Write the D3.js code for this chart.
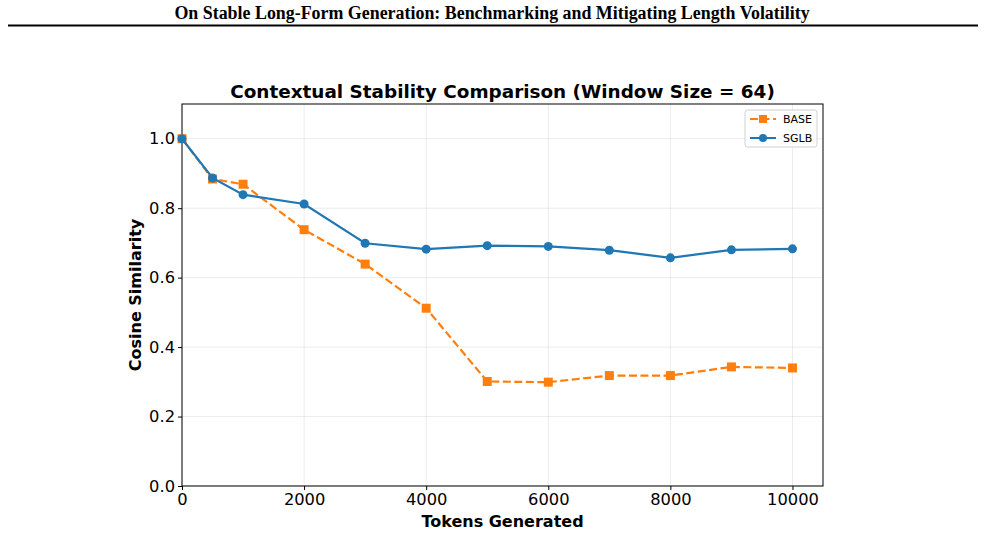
<!doctype html>
<html lang="en">
<head>
<meta charset="UTF-8">
<title>Contextual Stability Comparison</title>
<script src="https://d3js.org/d3.v7.min.js"></script>
<style>
  body { margin: 0; background: #fff; }
  svg text { font-family: "DejaVu Sans", sans-serif; }
</style>
</head>
<body>
<div id="chart-area"></div>
<script>
const tokens = [0, 500, 1000, 2000, 3000, 4000, 5000, 6000, 7000, 8000, 9000, 10000];
const baseVals = [1.0, 0.884, 0.869, 0.738, 0.639, 0.512, 0.301, 0.299, 0.318, 0.318, 0.343, 0.340];
const sglbVals = [1.0, 0.887, 0.839, 0.812, 0.699, 0.682, 0.692, 0.690, 0.679, 0.657, 0.680, 0.683];
const xTicks = [0, 2000, 4000, 6000, 8000, 10000];
const yTicks = [0.0, 0.2, 0.4, 0.6, 0.8, 1.0];

const W = 985, H = 557;
const m = { left: 182, right: 823, top: 104, bottom: 486 };

const svg = d3.select('#chart-area')
    .append('svg')
    .attr('width', W)
    .attr('height', H);

// page header
svg.append('text')
    .attr('x', 492).attr('y', 19)
    .attr('text-anchor', 'middle')
    .style('font-family', '"Liberation Serif", "Times New Roman", serif')
    .style('font-weight', 'bold')
    .style('font-size', '17.9px')
    .text('On Stable Long-Form Generation: Benchmarking and Mitigating Length Volatility');
svg.append('line')
    .attr('x1', 8).attr('x2', 978)
    .attr('y1', 25.5).attr('y2', 25.5)
    .attr('stroke', '#000').attr('stroke-width', 2);

const x = d3.scaleLinear().domain([0, 10500]).range([m.left, m.right]);
const y = d3.scaleLinear().domain([0, 1.1]).range([m.bottom, m.top]);

// grid
const grid = svg.append('g');
grid.selectAll('.gx').data(xTicks).enter().append('line')
    .attr('x1', d => x(d)).attr('x2', d => x(d))
    .attr('y1', m.top).attr('y2', m.bottom)
    .attr('stroke', '#b0b0b0').attr('stroke-opacity', 0.3).attr('stroke-width', 0.8);
grid.selectAll('.gy').data(yTicks).enter().append('line')
    .attr('x1', m.left).attr('x2', m.right)
    .attr('y1', d => y(d)).attr('y2', d => y(d))
    .attr('stroke', '#b0b0b0').attr('stroke-opacity', 0.3).attr('stroke-width', 0.8);

// axes
const xAxis = svg.append('g')
    .attr('transform', `translate(0,${m.bottom})`)
    .call(d3.axisBottom(x).tickValues(xTicks).tickFormat(d3.format('d')).tickSize(4).tickPadding(3));
const yAxis = svg.append('g')
    .attr('transform', `translate(${m.left},0)`)
    .call(d3.axisLeft(y).tickValues(yTicks).tickFormat(d3.format('.1f')).tickSize(4).tickPadding(3));
[xAxis, yAxis].forEach(a => {
    a.select('.domain').remove();
    a.selectAll('text').style('font-size', '16.3px').attr('fill', '#000')
        .style('font-family', '"DejaVu Sans", sans-serif');
    a.selectAll('line').attr('stroke', '#000');
});

// frame
svg.append('rect')
    .attr('x', m.left).attr('y', m.top)
    .attr('width', m.right - m.left).attr('height', m.bottom - m.top)
    .attr('fill', 'none').attr('stroke', '#000').attr('stroke-width', 1);

const line = d3.line().x((d, i) => x(tokens[i])).y(d => y(d));

// BASE
svg.append('path')
    .datum(baseVals)
    .attr('d', line)
    .attr('fill', 'none').attr('stroke', '#ff7f0e').attr('stroke-width', 2.2)
    .attr('stroke-dasharray', '8,3.5');
svg.selectAll('.sq').data(baseVals).enter().append('rect')
    .attr('x', (d, i) => x(tokens[i]) - 4.5)
    .attr('y', d => y(d) - 4.5)
    .attr('width', 9).attr('height', 9)
    .attr('fill', '#ff7f0e');

// SGLB
svg.append('path')
    .datum(sglbVals)
    .attr('d', line)
    .attr('fill', 'none').attr('stroke', '#1f77b4').attr('stroke-width', 2.2);
svg.selectAll('.dot').data(sglbVals).enter().append('circle')
    .attr('cx', (d, i) => x(tokens[i]))
    .attr('cy', d => y(d))
    .attr('r', 4.5)
    .attr('fill', '#1f77b4');

// titles
svg.append('text')
    .attr('x', (m.left + m.right) / 2).attr('y', 98)
    .attr('text-anchor', 'middle')
    .style('font-size', '18.4px').style('font-weight', 'bold')
    .text('Contextual Stability Comparison (Window Size = 64)');
svg.append('text')
    .attr('x', (m.left + m.right) / 2).attr('y', 527)
    .attr('text-anchor', 'middle')
    .style('font-size', '16px').style('font-weight', 'bold')
    .text('Tokens Generated');
svg.append('text')
    .attr('transform', `translate(141,${(m.top + m.bottom) / 2}) rotate(-90)`)
    .attr('text-anchor', 'middle')
    .style('font-size', '16px').style('font-weight', 'bold')
    .text('Cosine Similarity');

// legend
const lg = svg.append('g').attr('transform', 'translate(745,110)');
lg.append('rect')
    .attr('width', 72).attr('height', 37).attr('rx', 2.5)
    .attr('fill', '#fff').attr('fill-opacity', 0.8)
    .attr('stroke', '#d0d0d0').attr('stroke-width', 1);
const items = [
    { name: 'BASE', color: '#ff7f0e', dash: '8,3.5', shape: 'sq' },
    { name: 'SGLB', color: '#1f77b4', dash: null, shape: 'dot' }
];
items.forEach((it, i) => {
    const cy = 9 + i * 19;
    lg.append('line')
        .attr('x1', 5).attr('x2', 31).attr('y1', cy).attr('y2', cy)
        .attr('stroke', it.color).attr('stroke-width', 2)
        .attr('stroke-dasharray', it.dash);
    if (it.shape === 'sq') {
        lg.append('rect').attr('x', 14).attr('y', cy - 4).attr('width', 8).attr('height', 8).attr('fill', it.color);
    } else {
        lg.append('circle').attr('cx', 18).attr('cy', cy).attr('r', 4).attr('fill', it.color);
    }
    lg.append('text')
        .attr('x', 38).attr('y', cy + 4)
        .style('font-size', '11px')
        .text(it.name);
});
</script>
</body>
</html>
